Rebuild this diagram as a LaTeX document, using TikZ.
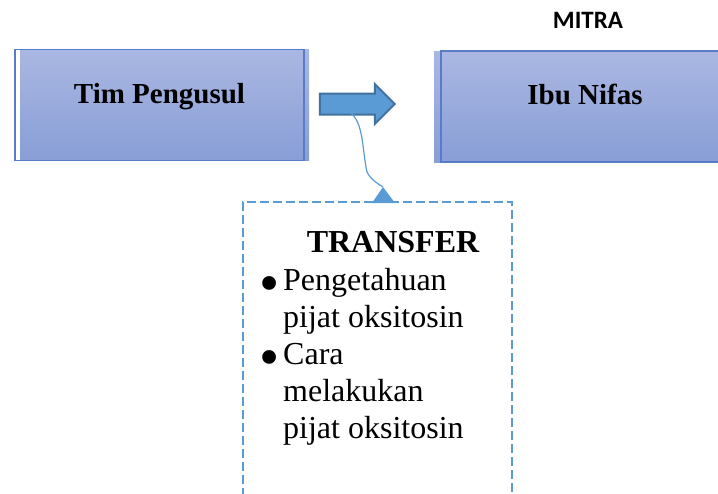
\documentclass[tikz,border=0pt]{standalone}
\usepackage{graphicx}
\usepackage{fontspec}
\setmainfont{Liberation Serif}
\newfontfamily\serffont{Liberation Serif}
\newfontfamily\mitrafont{Carlito}
\usetikzlibrary{shapes.arrows}

\definecolor{boxtop}{RGB}{170,183,226}
\definecolor{boxbot}{RGB}{136,158,214}
\definecolor{boxedge}{RGB}{88,124,200}
\definecolor{arrowblue}{RGB}{91,155,213}
\definecolor{arrowedge}{RGB}{65,113,156}

\newcommand{\itembullet}{\llap{\raisebox{-12.5pt}{\scalebox{1.8}{\textbullet}}\hspace{4pt}}}

\begin{document}
\begin{tikzpicture}[x=1pt,y=-1pt,
  box/.style={draw=boxedge,line width=1.5pt,minimum height=111pt,inner sep=0pt,
    text height=20pt,font=\serffont\bfseries\fontsize{29}{34}\selectfont},
  blockarrow/.style={single arrow,draw=arrowedge,fill=arrowblue,line width=2pt,
    minimum height=75pt,minimum width=38pt,inner sep=0pt,inner ysep=9.5pt,
    single arrow head extend=9.5pt},
  link/.style={draw=arrowblue,line width=1.2pt},
  dashbox/.style={draw=arrowblue,line width=2.5pt,dash pattern=on 9pt off 4pt}]

  \useasboundingbox (0,0) rectangle (718,493);

  \node[box,minimum width=289pt,text depth=24pt,
    preaction={top color=boxtop,bottom color=boxbot,draw=none,transform canvas={xshift=5pt}}]
    (tim) at (159.5,105) {Tim Pengusul};
  \node[box,minimum width=288pt,text depth=25pt,
    preaction={top color=boxtop,bottom color=boxbot,draw=none,transform canvas={xshift=-7pt}}]
    (ibu) at (585,106.5) {Ibu Nifas};

  \node[font=\mitrafont\bfseries\fontsize{25}{30}\selectfont] (mitra) at (588,20) {MITRA};

  \node[blockarrow] (arr) at (352,104) {};

  \node[dashbox,minimum width=269pt,minimum height=320pt] (frame) at (377.5,362) {};
  \coordinate (tip) at (383,187);

  \draw[link] ([xshift=-2.5pt,yshift=-8pt]arr.center) .. controls (364,122) and (362,150) .. (367,172)
    .. controls (371,180) and (377,183) .. (tip);
  \fill[arrowblue] (tip) -- (395,203) -- (372,203) -- cycle;

  \node[font=\serffont\bfseries\fontsize{32}{37}\selectfont] (title) at (393,242) {TRANSFER};
  \node[font=\serffont\fontsize{32}{37}\selectfont,align=left,inner sep=0pt,anchor=north west]
    (items) at (283,268) {\itembullet Pengetahuan\\
    pijat oksitosin\\
    \itembullet Cara\\
    melakukan\\
    pijat oksitosin};

\end{tikzpicture}
\end{document}
